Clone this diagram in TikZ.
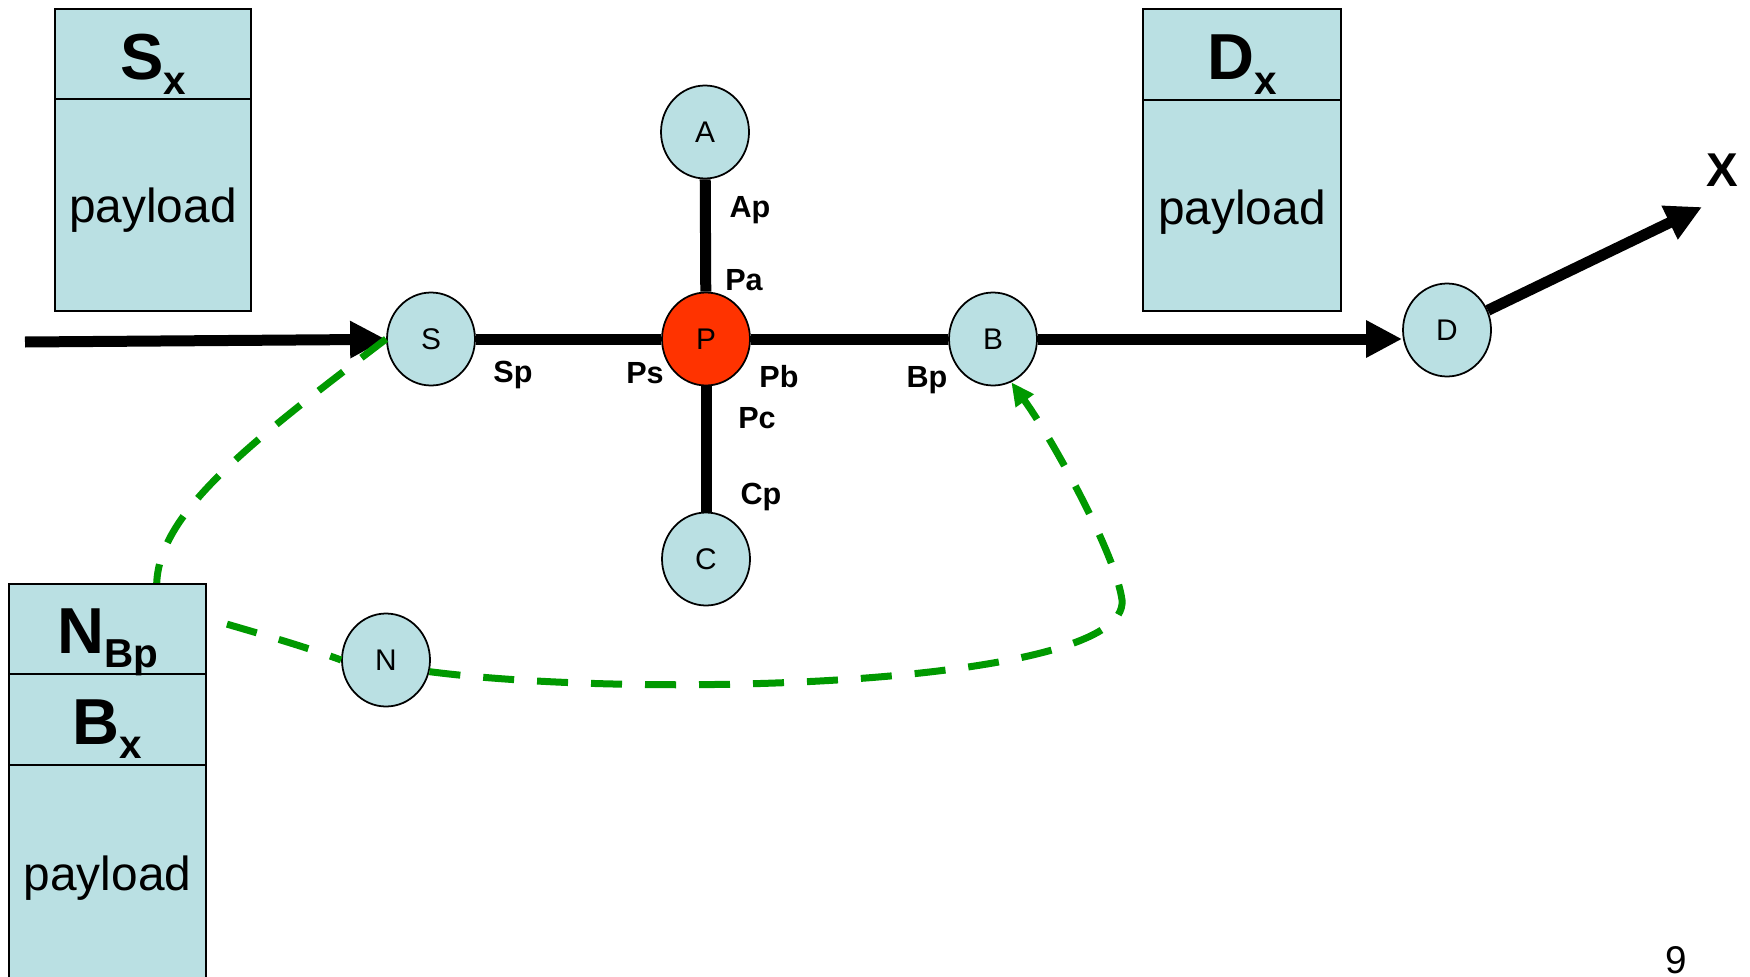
\documentclass[tikz,border=0pt]{standalone}
\usepackage{fontspec}
\setmainfont{Liberation Sans}
\usetikzlibrary{arrows.meta, shapes.geometric}

\definecolor{nodeblue}{RGB}{186,224,227}
\definecolor{hubred}{RGB}{255,51,0}
\definecolor{flowgreen}{RGB}{0,153,0}
\newcommand{\pkthead}[2]{{\fontsize{18.5}{20}\selectfont\bfseries #1}\raisebox{-4.2pt}{\fontsize{11.5}{12}\selectfont\bfseries #2}}

\begin{document}
\begin{tikzpicture}
    \tikzstyle{vertex}=[ellipse, draw, line width=0.5pt, fill=nodeblue, minimum width=8.8mm, minimum height=9.3mm, inner sep=0pt, font=\fontsize{8.5}{10}\selectfont]
    \tikzstyle{hop}=[anchor=base, inner sep=0pt, font=\fontsize{8.7}{10}\selectfont\bfseries]
    \tikzstyle{packet}=[draw, line width=0.6pt, fill=nodeblue]
    \tikzstyle{field}=[anchor=base, inner sep=0pt]
    \tikzstyle{load}=[anchor=base, inner sep=0pt, font=\fontsize{13.6}{15}\selectfont]
    \tikzstyle{link}=[line width=1.1mm, >={Triangle[length=3.6mm, width=3.5mm]}]
    \tikzstyle{flow}=[flowgreen, line width=0.7mm, dash pattern=on 3.1mm off 2.3mm]

    \useasboundingbox (0,0) rectangle (17.5,-9.76);

    \foreach \n/\x/\y in {S/4.31/-3.39, A/7.05/-1.32, C/7.06/-5.59, B/9.93/-3.39, D/14.47/-3.30, N/3.86/-6.60}
        \node[vertex] (\n) at (\x, \y) {\n};
    \node[vertex, fill=hubred] (P) at (7.06, -3.39) {P};

    \foreach \t/\x/\y in {Ap/7.50/-2.17, Pa/7.44/-2.90, Sp/5.13/-3.82, Ps/6.45/-3.83, Pb/7.79/-3.87, Bp/9.27/-3.87, Pc/7.57/-4.28, Cp/7.61/-5.04}
        \node[hop] (\t) at (\x, \y) {\t};

    \coordinate (in) at (0.25, -3.42);
    \coordinate (out) at (17.02, -2.07);
    \node[font=\fontsize{13.5}{15}\selectfont\bfseries] (X) at (17.22, -1.70) {X};

    \draw[link, ->] (in) -- (S);
    \foreach \v in {S, A, C, B}
        \draw[link] (P) -- (\v);
    \draw[link, ->] (B) -- (B -| D.west);
    \draw[link, ->] (D) -- (out);

    % detour around P
    \draw[flow] (S.west) .. controls (2.4, -4.5) and (1.5, -5.2) .. (1.57, -5.95)
        .. controls (1.59, -6.1) and (2.6, -6.3) .. (N.west);
    \draw[flow, -{Triangle[length=2.3mm, width=2.1mm]}] (N.-15) .. controls (6.5, -7.0) and (11.3, -6.85) .. (11.22, -6.0)
        .. controls (11.16, -5.55) and (10.53, -4.40) .. (B.-67);

    % packets
    \draw[packet] (0.55, -0.09) rectangle (2.51, -3.11);
    \draw[line width=0.6pt] (0.55, -0.99) -- (2.51, -0.99);
    \node[field] (Sx) at (1.53, -0.80) {\pkthead{S}{x}};
    \node[load] (Sload) at (1.53, -2.23) {payload};

    \draw[packet] (11.43, -0.09) rectangle (13.41, -3.11);
    \draw[line width=0.6pt] (11.43, -1.00) -- (13.41, -1.00);
    \node[field] (Dx) at (12.42, -0.80) {\pkthead{D}{x}};
    \node[load] (Dload) at (12.42, -2.25) {payload};

    \draw[packet] (0.09, -5.84) rectangle (2.06, -9.90);
    \draw[line width=0.6pt] (0.09, -6.74) -- (2.06, -6.74);
    \draw[line width=0.6pt] (0.09, -7.65) -- (2.06, -7.65);
    \node[field] (NBp) at (1.075, -6.53) {\pkthead{N}{Bp}};
    \node[field] (Bx) at (1.075, -7.44) {\pkthead{B}{x}};
    \node[load] (Bload) at (1.075, -8.90) {payload};

    \node[anchor=base, inner sep=0pt, font=\fontsize{11}{12}\selectfont] (page) at (16.76, -9.73) {9};
\end{tikzpicture}
\end{document}
